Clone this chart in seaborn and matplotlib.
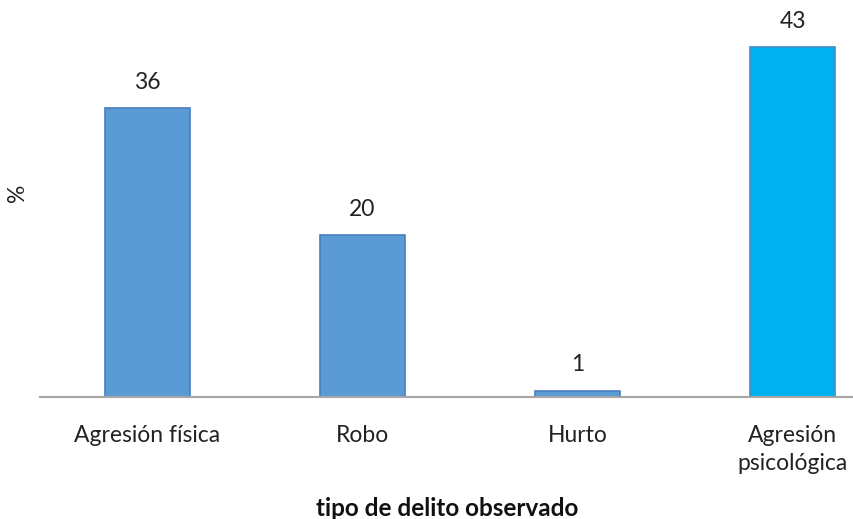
import matplotlib
matplotlib.use("Agg")
import matplotlib.pyplot as plt
import seaborn as sns
import pandas as pd

categories = ["Agresión física", "Robo", "Hurto", "Agresión\npsicológica"]
values = [35.7, 20.0, 0.8, 43.2]
labels = ["36", "20", "1", "43"]
bar_colors = ["#5B9BD5", "#5B9BD5", "#5B9BD5", "#00B0F0"]
edge_colors = ["#4A7EBB", "#4A7EBB", "#4A7EBB", "#3E8FC4"]

sns.set_style("white")
plt.rcParams["font.family"] = ["Lato", "DejaVu Sans"]

W, H = 854, 519
fig = plt.figure(figsize=(W / 100, H / 100), dpi=100)
left_px, base_px, slot = 40, 397, 215
ax_w = W - left_px
ymax = 48
ax_h = ymax * 8.1
ax = fig.add_axes([left_px / W, (H - base_px) / H, ax_w / W, ax_h / H])

FS = 16.5
df = pd.DataFrame({"cat": categories, "val": values})
sns.barplot(data=df, x="cat", y="val", hue="cat", palette=bar_colors,
            saturation=1, legend=False, width=85 / slot, ax=ax, linewidth=1.2)
for p, ec in zip(ax.patches, edge_colors):
    p.set_edgecolor(ec)

ax.set_xlim(-0.5, -0.5 + ax_w / slot)
ax.set_ylim(0, ymax)
for s in ["top", "right", "left"]:
    ax.spines[s].set_visible(False)
ax.spines["bottom"].set_color("#A6A6A6")
ax.spines["bottom"].set_linewidth(1.5)
ax.set_yticks([])
ax.tick_params(axis="x", length=0, pad=20, labelsize=FS, labelcolor="#222222")
for t in ax.get_xticklabels():
    t.set_linespacing(1.45)

for i, (v, lab) in enumerate(zip(values, labels)):
    ax.annotate(lab, (i, v), xytext=(0, 11), textcoords="offset points",
                ha="center", va="bottom", fontsize=FS, color="#222222")

ax.set_xlabel("tipo de delito observado", fontsize=17.5, fontweight="bold",
              color="#111111", labelpad=16)
ax.set_ylabel("%", fontsize=FS, color="#222222")
ax.yaxis.set_label_coords((28 - left_px) / ax_w, (base_px - 193) / ax_h)

fig.savefig("out.png", dpi=100)
